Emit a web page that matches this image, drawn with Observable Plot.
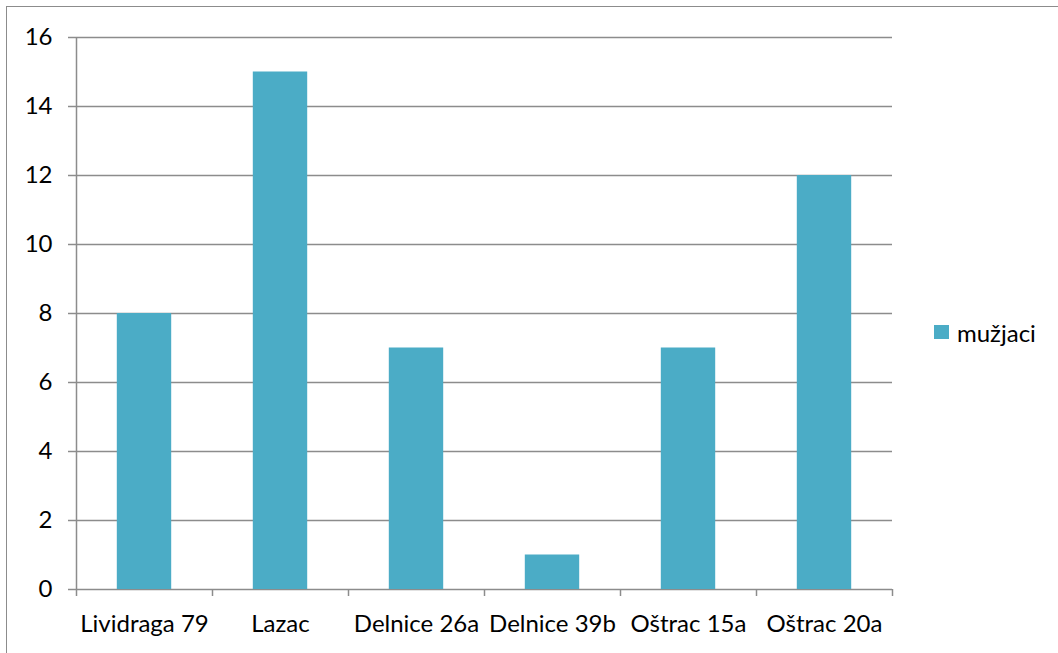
<!DOCTYPE html>
<html>
<head>
<meta charset="utf-8">
<script src="https://cdn.jsdelivr.net/npm/d3@7"></script>
<script src="https://cdn.jsdelivr.net/npm/@observablehq/plot@0.6"></script>
<style>
  html, body { margin: 0; padding: 0; background: #fff; }
  #wrap { position: relative; width: 1058px; height: 653px; overflow: hidden; font-family: Lato, "Noto Sans", sans-serif; }
  #border { position: absolute; left: 6px; top: 6px; width: 1070px; height: 670px; border: 1.5px solid #8c8c8c; box-sizing: border-box; }
  #legend { position: absolute; left: 934px; top: 318px; height: 28px; display: flex; align-items: center; font-size: 24px; color: #000; }
  #legend .sw { width: 15px; height: 14px; margin-right: 8px; }
</style>
</head>
<body>
<div id="wrap"><div id="border"></div><div id="chart"></div><div id="legend"></div></div>
<script>
const categories = ["Lividraga 79", "Lazac", "Delnice 26a", "Delnice 39b", "Oštrac 15a", "Oštrac 20a"];
const mužjaci = [8, 15, 7, 1, 7, 12];
const yTicks = [0, 2, 4, 6, 8, 10, 12, 14, 16];
const seriesName = "mužjaci";
const color = "#4bacc6";

const data = categories.map((c, i) => ({cat: c, value: mužjaci[i]}));

const W = 1058, H = 653;
const mL = 76, mR = 166, mT = 37, mB = 64;
const step = (W - mL - mR) / categories.length;
const plotH = H - mT - mB;

const chart = Plot.plot({
  width: W,
  height: H,
  marginLeft: mL,
  marginRight: mR,
  marginTop: mT,
  marginBottom: mB,
  style: {fontFamily: "Lato, 'Noto Sans', sans-serif", fontSize: "24px", color: "#000", background: "transparent", overflow: "visible"},
  x: {domain: categories, paddingInner: 0.6, paddingOuter: 0.3, round: false, label: null},
  y: {domain: [0, 16], ticks: yTicks, label: null},
  marks: [
    Plot.gridY(yTicks, {stroke: "#8c8c8c", strokeOpacity: 1, strokeWidth: 1.5}),
    Plot.axisY(yTicks, {tickSize: 8, tickPadding: 16, stroke: "#8c8c8c", strokeWidth: 1.5, fill: "#000", fontSize: 24, label: null}),
    Plot.barY(data, {x: "cat", y: "value", fill: color}),
    // left axis line (extends slightly below baseline)
    Plot.ruleX([categories[0]], {dx: -step / 2, stroke: "#8c8c8c", strokeWidth: 1.5, insetBottom: -7}),
    // category boundary ticks
    Plot.ruleX(categories, {dx: step / 2, stroke: "#8c8c8c", strokeWidth: 1.5, insetTop: plotH, insetBottom: -7}),
    Plot.axisX({tickSize: 0, tickPadding: 25, fill: "#000", fontSize: 24, label: null})
  ]
});
document.getElementById("chart").appendChild(chart);

const lg = document.getElementById("legend");
lg.innerHTML = `<div class="sw" style="background:${color}"></div><span>${seriesName}</span>`;
</script>
</body>
</html>
